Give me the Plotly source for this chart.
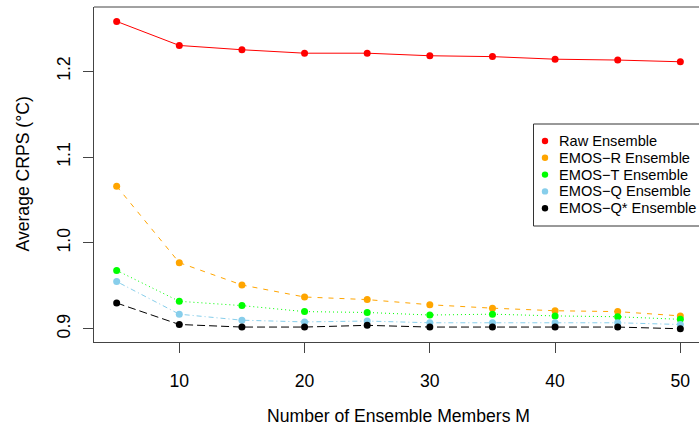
import plotly.graph_objects as go

members = [5, 10, 15, 20, 25, 30, 35, 40, 45, 50]
raw = [1.258, 1.230, 1.225, 1.221, 1.221, 1.218, 1.217, 1.214, 1.213, 1.211]
emos_r = [1.066, 0.977, 0.951, 0.937, 0.934, 0.928, 0.924, 0.921, 0.920, 0.915]
emos_t = [0.968, 0.932, 0.927, 0.920, 0.919, 0.916, 0.917, 0.915, 0.914, 0.911]
emos_q = [0.955, 0.917, 0.910, 0.908, 0.909, 0.907, 0.907, 0.907, 0.907, 0.905]
emos_qs = [0.930, 0.905, 0.902, 0.902, 0.904, 0.902, 0.902, 0.902, 0.902, 0.900]

names = ["Raw Ensemble", "EMOS\u2212R Ensemble", "EMOS\u2212T Ensemble",
         "EMOS\u2212Q Ensemble", "EMOS\u2212Q* Ensemble"]
series = [raw, emos_r, emos_t, emos_q, emos_qs]
colors = ["#FF0000", "#FFA500", "#00FF00", "#87CEEB", "#000000"]
dashes = ["solid", "5px,6px", "1px,3px", "1px,3px,5px,3px", "8px,4px"]

y_ticks = [0.9, 1.0, 1.1, 1.2]
y_tick_text = ["0.9", "1.0", "1.1", "1.2"]
x_ticks = [10, 20, 30, 40, 50]

FONT = "Liberation Sans, Arial, Helvetica, sans-serif"
AX_SIZE = 17.6
W, H = 699, 430
L, T, B = 94, 7, 88
plot_w = W - L
plot_h = H - T - B

fig = go.Figure()
for name, vals, col, dash in zip(names, series, colors, dashes):
    fig.add_trace(go.Scatter(
        x=members, y=vals, mode="lines+markers", name=name,
        line=dict(color=col, width=1, dash=dash),
        marker=dict(color=col, size=7, line=dict(width=0)),
        showlegend=False,
    ))

def px_x(px):
    return (px - L) / plot_w

def px_y(py):
    return (H - B - py) / plot_h

shapes = [
    dict(type="line", xref="paper", yref="paper", x0=0, x1=1.05, y0=1, y1=1,
         line=dict(color="#444444", width=1)),
    dict(type="rect", xref="paper", yref="paper",
         x0=px_x(533.5), x1=1.2, y0=px_y(226), y1=px_y(124),
         line=dict(color="#333333", width=1), fillcolor="white", layer="above"),
]
annotations = []
leg_y0, leg_dy = 141, 16.8
for i, (name, col) in enumerate(zip(names, colors)):
    yy = leg_y0 + i * leg_dy
    shapes.append(dict(type="circle", xref="paper", yref="paper",
                       xsizemode="pixel", ysizemode="pixel",
                       xanchor=px_x(545), yanchor=px_y(yy),
                       x0=-3.2, x1=3.2, y0=-3.2, y1=3.2,
                       fillcolor=col, line=dict(width=0), layer="above"))
    annotations.append(dict(xref="paper", yref="paper", x=px_x(557), y=px_y(yy),
                            text=name, showarrow=False, xanchor="left",
                            yanchor="middle",
                            font=dict(family=FONT, size=14.6, color="black")))

annotations.append(dict(xref="x", yref="paper", x=27.5, y=px_y(416.5),
                        text="Number of Ensemble Members M", showarrow=False,
                        xanchor="center", yanchor="middle",
                        font=dict(family=FONT, size=AX_SIZE, color="black")))
annotations.append(dict(xref="paper", yref="paper", x=px_x(22), y=0.5,
                        text="Average CRPS (\u00b0C)", showarrow=False, textangle=-90,
                        xanchor="center", yanchor="middle",
                        font=dict(family=FONT, size=AX_SIZE, color="black")))

fig.update_layout(
    width=W, height=H,
    margin=dict(l=L, r=0, t=T, b=B, pad=0),
    paper_bgcolor="white", plot_bgcolor="white",
    showlegend=False,
    shapes=shapes, annotations=annotations,
    xaxis=dict(range=[3.19, 51.49], tickvals=x_ticks, ticks="outside", ticklen=10,
               tickcolor="#444444", showline=True, linecolor="#444444", linewidth=1,
               showgrid=False, zeroline=False, ticklabelstandoff=13,
               tickfont=dict(family=FONT, size=AX_SIZE, color="black")),
    yaxis=dict(range=[0.8846, 1.2748], tickvals=y_ticks, ticktext=y_tick_text,
               ticks="outside", ticklen=10, tickcolor="#444444", tickangle=-90,
               showline=True, linecolor="#444444", linewidth=1,
               showgrid=False, zeroline=False, ticklabelstandoff=6,
               tickfont=dict(family=FONT, size=AX_SIZE, color="black")),
)

fig.write_html("out.html")
